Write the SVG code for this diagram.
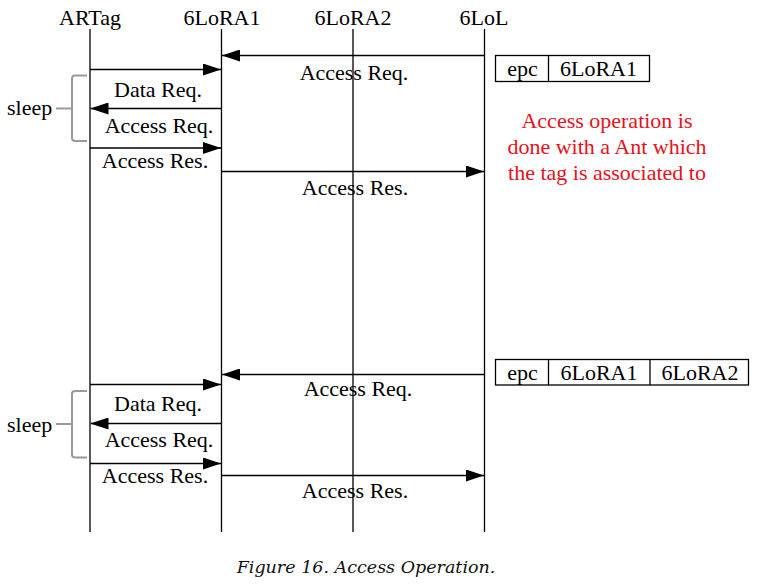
<svg xmlns="http://www.w3.org/2000/svg" width="760" height="588" viewBox="0 0 760 588">
<defs>
<marker id="ah" viewBox="0 0 18 12" refX="18" refY="6" markerWidth="18" markerHeight="12" markerUnits="userSpaceOnUse" orient="auto">
<path d="M0,0 L18,6 L0,12 Z" fill="#000"/>
</marker>
<style>
text{font-family:"Liberation Serif","Times New Roman",serif;font-size:22px;fill:#000}
.lbl{text-anchor:middle}
.life{stroke:#000;stroke-width:1.3;fill:none}
.msg{stroke:#000;stroke-width:1.3;fill:none;marker-end:url(#ah)}
.brk{stroke:#999;stroke-width:2;fill:none}
.box{stroke:#000;stroke-width:1.3;fill:#fff}
.red{fill:#e8101a;text-anchor:middle}
.cap{font-family:"DejaVu Serif","Liberation Serif",serif;font-style:italic;font-size:17.5px;text-anchor:middle;fill:#111}
</style>
</defs>
<rect width="760" height="588" fill="#fff"/>

<g id="lifelines">
<g id="artag"><text class="lbl" x="90" y="25">ARTag</text><line class="life" x1="90" y1="29" x2="90" y2="532"/></g>
<g id="lora1"><text class="lbl" x="222" y="25">6LoRA1</text><line class="life" x1="221.5" y1="29" x2="221.5" y2="532"/></g>
<g id="lora2"><text class="lbl" x="353" y="25">6LoRA2</text><line class="life" x1="353" y1="29" x2="353" y2="532"/></g>
<g id="lol"><text class="lbl" x="484" y="25">6LoL</text><line class="life" x1="484.5" y1="29" x2="484.5" y2="532"/></g>
</g>

<g id="connectors">
<line class="msg" x1="484.5" y1="55.5" x2="222" y2="55.5"/>
<line class="msg" x1="90" y1="69.5" x2="221" y2="69.5"/>
<line class="msg" x1="221.5" y1="108.5" x2="90.5" y2="108.5"/>
<line class="msg" x1="90" y1="148" x2="221" y2="148"/>
<line class="msg" x1="221.5" y1="171.5" x2="484" y2="171.5"/>

<line class="msg" x1="484.5" y1="374.5" x2="222" y2="374.5"/>
<line class="msg" x1="90" y1="384.5" x2="221" y2="384.5"/>
<line class="msg" x1="221.5" y1="423.5" x2="90.5" y2="423.5"/>
<line class="msg" x1="90" y1="463.5" x2="221" y2="463.5"/>
<line class="msg" x1="221.5" y1="475.5" x2="484" y2="475.5"/>
</g>

<g id="labels">
<text class="lbl" x="354" y="80">Access Req.</text>
<text class="lbl" x="158" y="97">Data Req.</text>
<text class="lbl" x="159" y="133">Access Req.</text>
<text class="lbl" x="155" y="168">Access Res.</text>
<text class="lbl" x="355" y="195">Access Res.</text>

<text class="lbl" x="358" y="396">Access Req.</text>
<text class="lbl" x="158" y="411">Data Req.</text>
<text class="lbl" x="159" y="447">Access Req.</text>
<text class="lbl" x="155" y="483">Access Res.</text>
<text class="lbl" x="355" y="498">Access Res.</text>
</g>

<g id="sleep1">
<path class="brk" d="M87,75.5 H75 Q72,75.5 72,78.5 V138 Q72,141 75,141 H87 M56,108.5 H72"/>
<text x="7" y="115">sleep</text>
</g>
<g id="sleep2">
<path class="brk" d="M87,391 H75 Q72,391 72,394 V454.5 Q72,457.5 75,457.5 H87 M56,424 H72"/>
<text x="7" y="432">sleep</text>
</g>

<g id="table1">
<rect class="box" x="495.5" y="55.5" width="154" height="26"/>
<line class="life" x1="548.5" y1="55.5" x2="548.5" y2="81.5"/>
<text class="lbl" x="522.5" y="76">epc</text>
<text class="lbl" x="598.5" y="76">6LoRA1</text>
</g>

<g id="note">
<text class="red" x="607" y="128">Access operation is</text>
<text class="red" x="607" y="154">done with a Ant which</text>
<text class="red" x="607" y="180">the tag is associated to</text>
</g>

<g id="table2">
<rect class="box" x="495.5" y="359.5" width="253" height="25.5"/>
<line class="life" x1="548.5" y1="359.5" x2="548.5" y2="385"/>
<line class="life" x1="650" y1="359.5" x2="650" y2="385"/>
<text class="lbl" x="522.5" y="380">epc</text>
<text class="lbl" x="599" y="380">6LoRA1</text>
<text class="lbl" x="700" y="380">6LoRA2</text>
</g>

<text class="cap" x="366" y="573">Figure 16. Access Operation.</text>
</svg>
